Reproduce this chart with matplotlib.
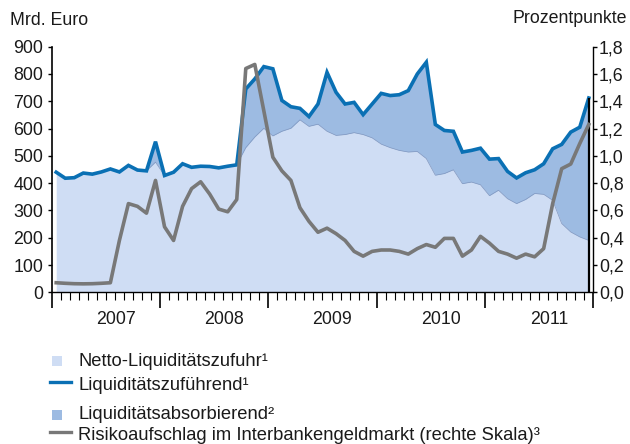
import matplotlib
matplotlib.use("Agg")
import matplotlib.pyplot as plt
from matplotlib.patches import Rectangle
from matplotlib.lines import Line2D
from matplotlib.ticker import FixedLocator, MultipleLocator
import numpy as np

plt.rcParams['font.family'] = ['Liberation Sans', 'DejaVu Sans']

# monthly values, Jan 2007 .. Dec 2011
netto = [440, 418, 420, 437, 433, 441, 452, 441, 465, 448,
         445, 477, 428, 440, 471, 458, 462, 461, 456, 462,
         467, 530, 569, 601, 573, 590, 601, 632, 608, 616,
         590, 575, 578, 585, 578, 566, 543, 530, 520, 514,
         516, 490, 429, 435, 449, 398, 404, 394, 354, 374,
         343, 325, 340, 362, 359, 337, 252, 221, 203, 190]
zufuehrend = [440, 418, 420, 437, 433, 441, 452, 441, 465, 448,
              445, 552, 428, 440, 471, 458, 462, 461, 456, 462,
              467, 745, 782, 827, 819, 703, 680, 674, 644, 690,
              806, 733, 690, 696, 651, 690, 729, 721, 724, 739,
              800, 843, 615, 593, 590, 514, 520, 528, 488, 490,
              443, 419, 438, 449, 471, 526, 542, 587, 605, 712]
spread = [0.07, 0.066, 0.063, 0.062, 0.063, 0.066, 0.07, 0.38, 0.65, 0.63,
          0.58, 0.82, 0.48, 0.38, 0.63, 0.76, 0.81, 0.72, 0.61, 0.59,
          0.68, 1.64, 1.67, 1.33, 0.99, 0.89, 0.82, 0.62, 0.52, 0.44,
          0.47, 0.43, 0.38, 0.30, 0.265, 0.30, 0.31, 0.31, 0.30, 0.28,
          0.32, 0.35, 0.33, 0.395, 0.395, 0.265, 0.31, 0.41, 0.36, 0.30,
          0.28, 0.25, 0.28, 0.26, 0.32, 0.65, 0.906, 0.94, 1.09, 1.23]
years = ['2007', '2008', '2009', '2010', '2011']
left_ticks = list(range(0, 1000, 100))
right_ticks = [0.0, 0.2, 0.4, 0.6, 0.8, 1.0, 1.2, 1.4, 1.6, 1.8]

light = '#cfddf4'
dark = '#9dbbe2'
blue = '#0a70b4'
grey = '#787878'
txt = '#1a1a1a'
fs = 12.8

W, H = 630, 444
fig = plt.figure(figsize=(W / 100, H / 100), dpi=100)
x0, x1, y0, y1 = 51.7, 593.3, 46.7, 292.3
ax = fig.add_axes([x0 / W, 1 - y1 / H, (x1 - x0) / W, (y1 - y0) / H])

x = np.arange(len(netto)) + 0.5
ax.fill_between(x, 0, netto, color=light, lw=0)
ax.fill_between(x, netto, zufuehrend, color=dark, lw=0)
ax.plot(x, netto, color='#8197c0', lw=0.5)
ax.plot(x, zufuehrend, color=blue, lw=2.6, solid_joinstyle='miter')
ax.vlines(x[-1], 0, zufuehrend[-1], color='black', lw=1.6)

ax.set_xlim(0, 60)
ax.set_ylim(0, 900)
ax.yaxis.set_major_locator(FixedLocator(left_ticks))
ax.set_yticklabels([str(v) for v in left_ticks])
ax.xaxis.set_major_locator(MultipleLocator(12))
ax.xaxis.set_minor_locator(MultipleLocator(1))
ax.tick_params(axis='x', which='major', length=11.5, width=1.2, labelbottom=False)
ax.tick_params(axis='x', which='minor', length=5.8, width=0.8)
ax.tick_params(axis='y', length=2.9, width=1.0, pad=3.2, labelsize=fs, labelcolor=txt)
for s in ['top', 'right']:
    ax.spines[s].set_visible(False)
ax.spines['left'].set_linewidth(1.2)
ax.spines['bottom'].set_linewidth(1.0)

for k, yr in enumerate(years):
    ax.text(7.1 + 12 * k, -0.128, yr, transform=ax.get_xaxis_transform(),
            ha='center', va='baseline', fontsize=fs, color=txt)

ax2 = ax.twinx()
ax2.plot(x, spread, color=grey, lw=2.6)
ax2.set_ylim(0, 1.8)
ax2.yaxis.set_major_locator(FixedLocator(right_ticks))
ax2.set_yticklabels([f'{v:.1f}'.replace('.', ',') for v in right_ticks])
ax2.tick_params(axis='y', length=2.9, width=1.0, pad=1.2, labelsize=fs, labelcolor=txt)
for s in ['top', 'left', 'bottom']:
    ax2.spines[s].set_visible(False)
ax2.spines['right'].set_linewidth(1.0)

fig.text(10 / W, 1 - 25 / H, 'Mrd. Euro', ha='left', va='baseline', fontsize=fs, color=txt)
fig.text(627 / W, 1 - 23 / H, 'Prozentpunkte', ha='right', va='baseline', fontsize=fs, color=txt)

# legend
def fx(px):
    return px / W

def fy(py):
    return 1 - py / H

entries = [
    ('patch', light, 360.5, 365.5, 'Netto-Liquiditätszufuhr¹'),
    ('line', blue, 382.3, 390.5, 'Liquiditätszuführend¹'),
    ('patch', dark, 414.8, 418.8, 'Liquiditätsabsorbierend²'),
    ('line', grey, 432.3, 439.8, 'Risikoaufschlag im Interbankengeldmarkt (rechte Skala)³'),
]
for kind, col, yc, yb, label in entries:
    if kind == 'patch':
        fig.add_artist(Rectangle((fx(52), fy(yc + 5)), 10 / W, 10 / H,
                                 transform=fig.transFigure, color=col, lw=0))
    else:
        fig.add_artist(Line2D([fx(50), fx(71)], [fy(yc), fy(yc)],
                              transform=fig.transFigure, color=col, lw=2.4))
    fig.text(fx(78), fy(yb), label, ha='left', va='baseline', fontsize=13.2, color=txt)

fig.savefig('out.png', dpi=100)
